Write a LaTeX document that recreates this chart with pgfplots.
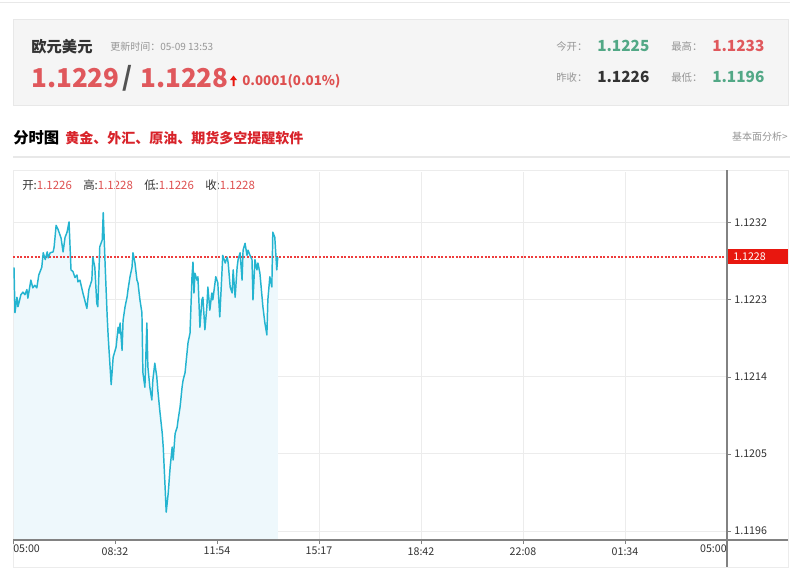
\documentclass[border=0pt]{standalone}
\usepackage{fontspec}
\setmainfont{Noto Sans CJK SC}
\usepackage{pgfplots}
\pgfplotsset{compat=1.18}
\usepackage{pgfplotstable}
\definecolor{linecol}{RGB}{36,180,208}
\definecolor{fillcol}{RGB}{238,248,252}
\definecolor{gridcol}{RGB}{236,236,236}
\definecolor{axiscol}{RGB}{130,130,130}
\definecolor{redbox}{RGB}{232,23,15}
\definecolor{refred}{RGB}{238,60,60}
\definecolor{bigred}{RGB}{224,88,92}
\definecolor{slogan}{RGB}{216,35,42}
\definecolor{green}{RGB}{82,168,134}
\definecolor{dark}{RGB}{51,51,51}
\definecolor{midgray}{RGB}{150,150,150}
\definecolor{boxgray}{RGB}{245,245,245}
\definecolor{boxborder}{RGB}{232,232,232}
\definecolor{valred}{RGB}{222,80,80}

\pgfplotstableread{
t p
2 1.12268
4 1.12215
8 1.12233
10 1.12222
16 1.12236
20 1.12239
24 1.12236
28 1.12242
30 1.12232
36 1.12253
40 1.12244
44 1.12247
48 1.12244
52 1.12259
58 1.12268
61 1.12285
65 1.12277
69 1.12286
71 1.12279
75 1.12285
81 1.12286
83 1.12292
87 1.12317
91 1.12312
97 1.12302
101 1.12286
105 1.12303
109 1.12309
113 1.12321
117 1.12265
121 1.12263
125 1.12256
129 1.12259
131 1.12251
135 1.12253
141 1.12238
149 1.12220
153 1.12242
159 1.12253
161 1.12280
165 1.12268
169 1.12226
171 1.12222
175 1.12292
180 1.12300
182 1.12332
186 1.12268
190 1.12210
192 1.12187
198 1.12131
202 1.12163
208 1.12175
212 1.12198
214 1.12191
216 1.12203
220 1.12171
222 1.12206
226 1.12222
230 1.12233
232 1.12242
236 1.12257
240 1.12268
242 1.12285
246 1.12273
250 1.12253
252 1.12250
256 1.12230
260 1.12215
262 1.12145
266 1.12128
270 1.12203
272 1.12152
276 1.12128
280 1.12113
282 1.12136
286 1.12156
290 1.12140
292 1.12125
296 1.12101
301 1.12074
303 1.12058
307 1.12008
309 1.11982
313 1.12004
317 1.12035
321 1.12058
323 1.12043
327 1.12074
331 1.12081
333 1.12090
337 1.12105
341 1.12128
343 1.12136
347 1.12145
353 1.12180
357 1.12191
361 1.12257
363 1.12274
365 1.12238
367 1.12261
371 1.12253
373 1.12257
377 1.12198
381 1.12230
383 1.12233
387 1.12195
391 1.12222
393 1.12245
397 1.12218
401 1.12238
403 1.12230
409 1.12257
413 1.12250
417 1.12210
421 1.12257
423 1.12282
428 1.12273
432 1.12280
434 1.12273
438 1.12245
442 1.12238
444 1.12265
448 1.12233
452 1.12268
454 1.12277
458 1.12285
462 1.12253
464 1.12288
468 1.12296
472 1.12282
474 1.12288
478 1.12282
482 1.12277
484 1.12230
488 1.12277
492 1.12265
494 1.12273
498 1.12261
504 1.12222
508 1.12203
512 1.12189
514 1.12230
518 1.12257
522 1.12245
524 1.12309
528 1.12303
532 1.12265
534 1.12280
}\pricetab

\begin{document}
\begin{tikzpicture}
\begin{scope}[x=0.75pt,y=-0.75pt]
  \fill[white] (0,0) rectangle (800,583);
  \draw[boxborder, line width=0.75pt] (0,2) -- (790,2);
  \filldraw[fill=boxgray, draw=boxborder, line width=0.75pt] (13,19) rectangle (788,105);
  % header
  \node[anchor=west, inner sep=0, text=dark, font=\fontsize{11.5}{12}\selectfont\bfseries] at (31,47) {欧元美元};
  \node[anchor=west, inner sep=0, text=midgray, font=\fontsize{7.5}{9}\selectfont] at (110,47) {更新时间：05-09 13:53};
  \node[anchor=west, inner sep=0, text=bigred, font=\fontsize{19.5}{22}\selectfont\bfseries] at (31,78) {1.1229};
  \node[anchor=west, inner sep=0, text=dark!85, font=\fontsize{19.5}{22}\selectfont\bfseries] at (122,78) {/};
  \node[anchor=west, inner sep=0, text=bigred, font=\fontsize{19.5}{22}\selectfont\bfseries] at (140,78) {1.1228};
  \fill[redbox] (230,80) -- (233.5,75.5) -- (237,80) -- (234.5,80) -- (234.5,86) -- (232.5,86) -- (232.5,80) -- cycle;
  \node[anchor=west, inner sep=0, text=valred, font=\fontsize{10}{12}\selectfont\bfseries] at (242,81) {0.0001(0.01\%)};
  % right stats
  \node[anchor=west, inner sep=0, text=midgray, font=\fontsize{7.8}{9}\selectfont] at (556,47) {今开：};
  \node[anchor=west, inner sep=0, text=green, font=\fontsize{11.5}{14}\selectfont\bfseries] at (597,46) {1.1225};
  \node[anchor=west, inner sep=0, text=midgray, font=\fontsize{7.8}{9}\selectfont] at (671,47) {最高：};
  \node[anchor=west, inner sep=0, text=bigred, font=\fontsize{11.5}{14}\selectfont\bfseries] at (712,46) {1.1233};
  \node[anchor=west, inner sep=0, text=midgray, font=\fontsize{7.8}{9}\selectfont] at (556,78) {昨收：};
  \node[anchor=west, inner sep=0, text=dark, font=\fontsize{11.5}{14}\selectfont\bfseries] at (597,77) {1.1226};
  \node[anchor=west, inner sep=0, text=midgray, font=\fontsize{7.8}{9}\selectfont] at (671,78) {最低：};
  \node[anchor=west, inner sep=0, text=green, font=\fontsize{11.5}{14}\selectfont\bfseries] at (712,77) {1.1196};
  % section title
  \node[anchor=west, inner sep=0, text=black, font=\fontsize{11.5}{13}\selectfont\bfseries] at (13,138) {分时图};
  \node[anchor=west, inner sep=0, text=slogan, font=\fontsize{10.5}{13}\selectfont\bfseries] at (65,138) {黄金、外汇、原油、期货多空提醒软件};
  \node[anchor=east, inner sep=0, text=midgray, font=\fontsize{7.5}{9}\selectfont] at (788,137) {基本面分析>};
  \draw[boxborder, line width=1.1pt] (13,157) -- (790,157);
  \draw[gridcol, line width=0.75pt] (13,170) rectangle (788,567);
  % OHLC legend
  \node[anchor=west, inner sep=0, font=\fontsize{8.6}{10}\selectfont] at (22,185) {\textcolor{dark}{开:}\textcolor{valred}{1.1226}\hspace{8.5pt}\textcolor{dark}{高:}\textcolor{valred}{1.1228}\hspace{8.5pt}\textcolor{dark}{低:}\textcolor{valred}{1.1226}\hspace{8.5pt}\textcolor{dark}{收:}\textcolor{valred}{1.1228}};
\end{scope}

\begin{axis}[
  at={(9.75pt,-405pt)}, anchor=south west,
  scale only axis, width=535.5pt, height=276pt,
  xmin=0, xmax=1440, ymin=1.119495, ymax=1.123793,
  axis x line*=bottom, axis y line*=right,
  axis line style={draw=none},
  xtick={0,205.714,411.429,617.143,822.857,1028.571,1234.286,1440},
  xticklabels={,08:32,11:54,15:17,18:42,22:08,01:34,},
  ytick={1.1196,1.1205,1.1214,1.1223,1.1232},
  yticklabels={1.1196,1.1205,1.1214,1.1223,1.1232},
  tick align=outside, major tick length=3pt,
  tick style={axiscol, line width=0.6pt},
  grid=major, major grid style={gridcol, line width=0.75pt},
  xticklabel style={font=\fontsize{8}{9}\selectfont, text=dark, yshift=1pt},
  yticklabel style={font=\fontsize{8}{9}\selectfont, text=dark, xshift=-1pt},
  clip=true,
]
\addplot[fill=fillcol, draw=none] table[x=t, y=p] {\pricetab} -- (axis cs:534,1.119495) -- (axis cs:2,1.119495) -- cycle;
\addplot[color=refred, solid, mark=none, line width=0.9pt, dash pattern=on 1.5pt off 1.2pt] coordinates {(0,1.1228) (1440,1.1228)};
\addplot[linecol, line width=1.1pt, line join=round] table[x=t, y=p] {\pricetab};
\end{axis}

\begin{scope}[x=0.75pt,y=-0.75pt]
  \draw[axiscol, line width=0.8pt] (13,540) -- (788,540);
  \draw[axiscol, line width=1.1pt] (727,170) -- (727,567);
  \node[anchor=west, inner sep=0, text=dark, font=\fontsize{8}{9}\selectfont] at (13,549) {05:00};
  \node[anchor=east, inner sep=0, text=dark, font=\fontsize{8}{9}\selectfont] at (727,549) {05:00};
  \fill[redbox] (728,249) rectangle (788,264);
  \node[anchor=west, inner sep=0, text=white, font=\fontsize{8}{9}\selectfont] at (733,256.5) {1.1228};
\end{scope}
\pgfresetboundingbox
\path[use as bounding box] (0,0) rectangle (600pt,-437.25pt);
\end{tikzpicture}
\end{document}
